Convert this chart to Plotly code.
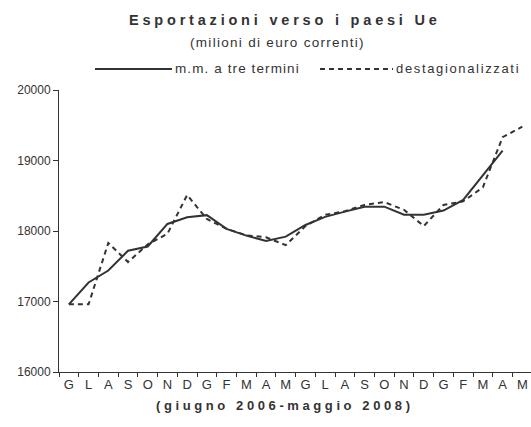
import plotly.graph_objects as go

# ---- data ----
months = ["G", "L", "A", "S", "O", "N", "D", "G", "F", "M", "A", "M",
          "G", "L", "A", "S", "O", "N", "D", "G", "F", "M", "A", "M"]
media_mobile = [16960, 17270, 17440, 17720, 17780, 18100, 18195, 18225, 18030, 17935,
                17860, 17920, 18085, 18200, 18275, 18345, 18345, 18230, 18230, 18290,
                18440, 18790, 19140]
destagionalizzati = [16960, 16960, 17830, 17560, 17810, 17960, 18510, 18170, 18030, 17940,
                     17910, 17800, 18070, 18230, 18280, 18370, 18410, 18300, 18070, 18370,
                     18420, 18620, 19330, 19480]
y_ticks = [16000, 17000, 18000, 19000, 20000]
y_ticktext = ["16000", "17000", "18000", "19000", "20000"]
name_mm = "m.m. a tre termini"
name_dest = "destagionalizzati"
title_text = "Esportazioni verso i paesi Ue"
subtitle_text = "(milioni di euro correnti)"
xtitle_text = "(giugno 2006-maggio 2008)"

# ---- layout geometry (pixels) ----
W, H = 531, 427
L, R, T, B = 59, 0, 90, 55
pw, ph = W - L - R, H - T - B
def px(x):  # pixel x -> paper
    return (x - L) / pw
def py(y):  # pixel y -> paper
    return (H - B - y) / ph

INK = "#333333"
FONT = "Liberation Sans, Arial, sans-serif"

x_idx = list(range(len(months)))

fig = go.Figure()
fig.add_trace(go.Scatter(x=x_idx[:len(media_mobile)], y=media_mobile, name=name_mm,
                         mode="lines", line=dict(color=INK, width=2), showlegend=False))
fig.add_trace(go.Scatter(x=x_idx, y=destagionalizzati, name=name_dest,
                         mode="lines", line=dict(color=INK, width=2, dash="5px,4px"),
                         showlegend=False))

shapes = [
    dict(type="line", xref="paper", yref="paper", x0=px(95), x1=px(172), y0=py(69), y1=py(69),
         line=dict(color=INK, width=2)),
    dict(type="line", xref="paper", yref="paper", x0=px(320), x1=px(393), y0=py(69), y1=py(69),
         line=dict(color=INK, width=2, dash="5px,4px")),
]
annotations = [
    dict(text=f'<b><span style="letter-spacing:3.8px">{title_text}</span></b>', xref="paper", yref="paper",
         x=px(127), y=py(20), xanchor="left", yanchor="middle", showarrow=False,
         font=dict(family=FONT, size=14.5, color=INK)),
    dict(text=f'<span style="letter-spacing:1.3px">{subtitle_text}</span>', xref="paper", yref="paper",
         x=px(277), y=py(43), xanchor="center", yanchor="middle", showarrow=False,
         font=dict(family=FONT, size=13.5, color=INK)),
    dict(text=f'<span style="letter-spacing:1.1px">{name_mm}</span>', xref="paper", yref="paper",
         x=px(173), y=py(69), xanchor="left", yanchor="middle", showarrow=False,
         font=dict(family=FONT, size=13.5, color=INK)),
    dict(text=f'<span style="letter-spacing:1.65px">{name_dest}</span>', xref="paper", yref="paper",
         x=px(394), y=py(69), xanchor="left", yanchor="middle", showarrow=False,
         font=dict(family=FONT, size=13, color=INK)),
    dict(text=f'<b><span style="letter-spacing:3.6px">{xtitle_text}</span></b>', xref="paper", yref="paper",
         x=px(285), y=py(405), xanchor="center", yanchor="middle", showarrow=False,
         font=dict(family=FONT, size=13, color=INK)),
]

fig.update_layout(
    width=W, height=H,
    margin=dict(l=L, r=R, t=T, b=B, pad=0, autoexpand=False),
    paper_bgcolor="white", plot_bgcolor="white",
    shapes=shapes, annotations=annotations,
    font=dict(family=FONT, size=13, color=INK),
)
fig.update_xaxes(
    automargin=False,
    range=[-0.5, len(months) - 0.5 - 0.06],
    tickmode="array", tickvals=x_idx, ticktext=months,
    ticks="", showline=True, linecolor=INK, linewidth=1,
    showgrid=False, zeroline=False,
    minor=dict(tickmode="array", tickvals=[i - 0.5 for i in range(len(months) + 1)],
               ticks="outside", ticklen=4, tickcolor=INK, tickwidth=1, showgrid=False),
    tickfont=dict(family=FONT, size=13, color=INK),
    ticklabelstandoff=0,
)
fig.update_yaxes(
    automargin=False,
    range=[y_ticks[0], y_ticks[-1]],
    tickmode="array", tickvals=y_ticks, ticktext=y_ticktext,
    ticks="outside", ticklen=5, tickcolor=INK, tickwidth=1,
    showline=True, linecolor=INK, linewidth=1,
    showgrid=False, zeroline=False,
    tickfont=dict(family=FONT, size=12, color=INK),
)

fig.write_html("out.html", config={"displayModeBar": False, "staticPlot": True},
               post_script="document.body.style.margin='0px';document.body.style.padding='0px';")
